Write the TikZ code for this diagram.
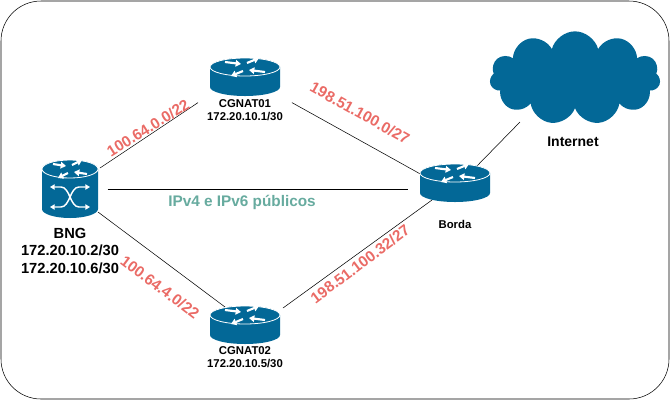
\documentclass[tikz,border=0pt]{standalone}
\usepackage{fontspec}
\setmainfont{Liberation Sans}
\usetikzlibrary{shapes.symbols, arrows.meta}
\definecolor{rtblue}{HTML}{036897}
\definecolor{netred}{HTML}{EA6B66}
\definecolor{pubgreen}{HTML}{67AB9F}
\tikzset{
  box/.style={inner sep=0pt, minimum width=#1},
  netlbl/.style={text=netred, font=\bfseries\fontsize{11.5}{13}\selectfont},
  hostlbl/.style={font=\bfseries\fontsize{8.5}{10}\selectfont, align=center},
  arr/.style={white, line width=1.6pt, -{Triangle[width=5pt,length=4pt]}},
  pics/router/.style={code={
    \fill[rtblue] (-35,-10) -- (-35,10) arc[start angle=180,end angle=0,x radius=35,y radius=9] -- (35,-10) arc[start angle=0,end angle=-180,x radius=35,y radius=9];
    \draw[white, line width=0.6pt, fill=rtblue] (0,-10) ellipse[x radius=35, y radius=9];
    \draw[arr] (-20,-15) -- (-4,-13);
    \draw[arr] (20,-5) -- (4,-7);
    \draw[arr] (2,-14) -- (14,-19);
    \draw[arr] (-2,-6) -- (-14,-1);
  }},
}
\begin{document}
\begin{tikzpicture}[x=0.75pt,y=-0.75pt]
\useasboundingbox (0,0) rectangle (671,401);
\draw[rounded corners=30pt] (1,1) rectangle (669,399);
% devices
\node[box=70, minimum height=38] (cg1) at (245,77) {};
\node[box=70, minimum height=38] (cg2) at (245,325) {};
\node[box=70, minimum height=36] (bd) at (455,183) {};
\node[box=56, minimum height=58] (bng) at (70,189) {};
\node[cloud, cloud puffs=11, aspect=2, fill=rtblue, inner sep=0pt, minimum width=128, minimum height=70] (net) at (575,78) {};
% links
\draw (100,168) -- (cg1.south west);
\draw (cg1.south east) -- (424,176);
\draw (bng.east) -- (bng.east -| bd.west);
\draw (98,212) -- (229,310);
\draw (432,200) -- (283,308);
\draw (473,170) -- (520,122);
% icons
\pic at (cg1.center) {router};
\pic at (cg2.center) {router};
\pic at (bd.center) {router};
\begin{scope}[shift={(bng.center)}]
  \fill[rtblue] (-28,-20) -- (-28,20) arc[start angle=180,end angle=0,x radius=28,y radius=9] -- (28,-20) arc[start angle=0,end angle=-180,x radius=28,y radius=9];
  \draw[white, line width=0.6pt, fill=rtblue] (0,-20) ellipse[x radius=28, y radius=9];
  \draw[arr] (-17,-25) -- (-4,-23);
  \draw[arr] (17,-15) -- (4,-17);
  \draw[arr] (2,-24) -- (12,-29);
  \draw[arr] (-2,-16) -- (-12,-11);
  \draw[white, line width=1.1pt, {Triangle[width=4pt,length=3.5pt]}-{Triangle[width=4pt,length=3.5pt]}] (-20,-2) -- (-9,-2) .. controls (0,-2) and (0,18) .. (9,18) -- (20,18);
  \draw[white, line width=1.1pt, {Triangle[width=4pt,length=3.5pt]}-{Triangle[width=4pt,length=3.5pt]}] (-20,18) -- (-9,18) .. controls (0,18) and (0,-2) .. (9,-2) -- (20,-2);
\end{scope}
% labels
\node[hostlbl] at (245,110) {CGNAT01\\172.20.10.1/30};
\node[hostlbl] at (245,357) {CGNAT02\\172.20.10.5/30};
\node[hostlbl] at (455,224) {Borda};
\node[font=\bfseries\fontsize{11}{13}\selectfont, align=center] at (70,251) {BNG\\172.20.10.2/30\\172.20.10.6/30};
\node[font=\bfseries\fontsize{10.5}{12}\selectfont] at (573,142) {Internet};
\node[text=pubgreen, font=\bfseries\fontsize{11.5}{13}\selectfont] at (242,202) {IPv4 e IPv6 públicos};
\node[netlbl, rotate=32] at (148,128) {100.64.0.0/22};
\node[netlbl, rotate=-29] at (360,113) {198.51.100.0/27};
\node[netlbl, rotate=-37] at (160,287) {100.64.4.0/22};
\node[netlbl, rotate=37] at (360,264) {198.51.100.32/27};
\end{tikzpicture}
\end{document}
